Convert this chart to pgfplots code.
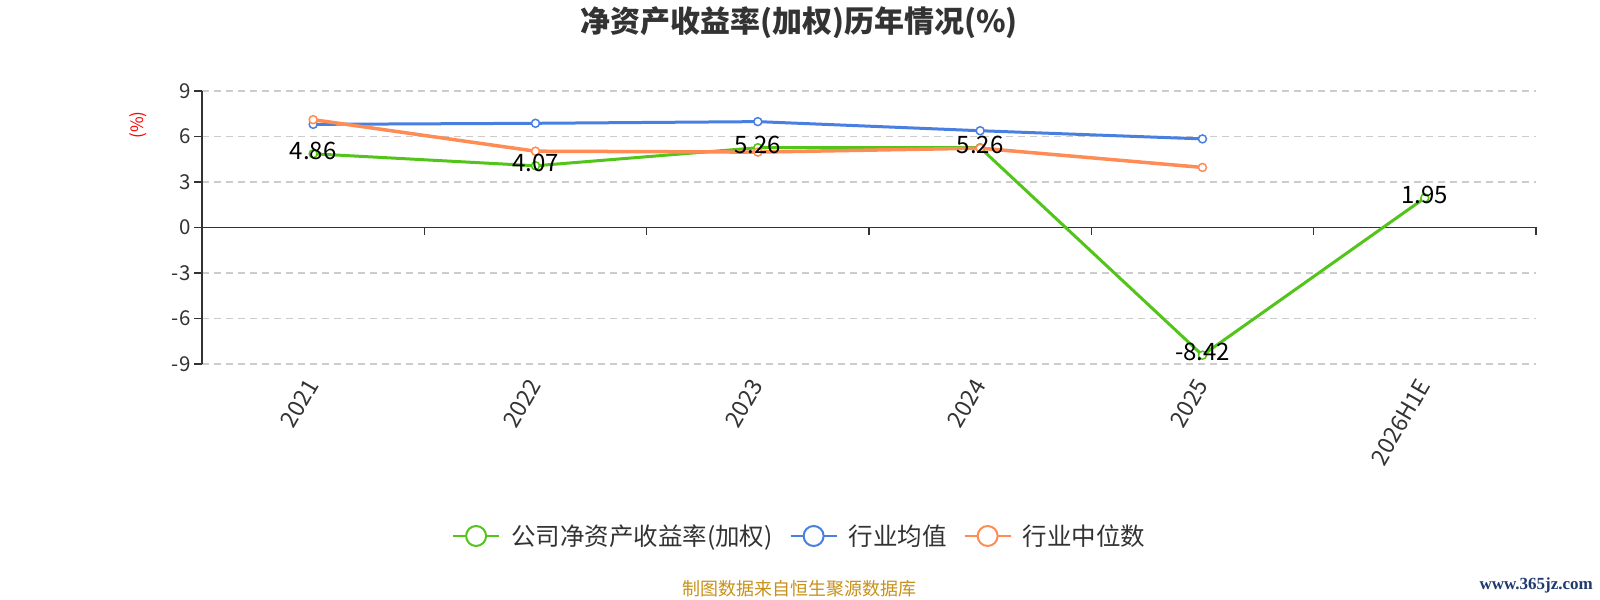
\documentclass[border=0pt]{standalone}
\usepackage{pgfplots}
\pgfplotsset{compat=1.18}
\usepackage{fontspec}
\setmainfont{Noto Sans CJK SC}
\newfontfamily\wmfont{Liberation Serif}
\definecolor{cgreen}{HTML}{52C41A}
\definecolor{cblue}{HTML}{4A7FE2}
\definecolor{corange}{HTML}{FF8C55}
\definecolor{caxis}{HTML}{333333}
\definecolor{cgrid}{HTML}{CCCCCC}
\definecolor{cfoot}{HTML}{C8901A}
\definecolor{cwm}{HTML}{1E3A6E}
\newcommand{\fs}[1]{\fontsize{#1bp}{#1bp}\selectfont}
\begin{document}
\begin{tikzpicture}
\path[use as bounding box] (0,0) rectangle (1600bp,600bp);
\begin{axis}[
  at={(202bp,236bp)}, anchor=south west,
  scale only axis, width=1334bp, height=273bp,
  xmin=-0.5, xmax=5.5, ymin=-9, ymax=9,
  axis x line*=bottom, axis y line*=left,
  x axis line style={draw=none},
  y axis line style={caxis, line width=1.5bp},
  xtick=data,
  xticklabels={2021,2022,2023,2024,2025,2026H1E},
  xtick style={draw=none},
  xticklabel style={rotate=60, anchor=east, font=\fs{23}, text=caxis, yshift=-4bp, xshift=-5bp},
  ytick={-9,-6,-3,0,3,6,9},
  yticklabels={-9,-6,-3,0,3,6,9},
  yticklabel style={font=\fs{20.5}, text=caxis},
  ytick style={caxis, line width=1.5bp},
  tick align=outside, major tick length=8bp,
  ymajorgrids, grid style={cgrid, line width=1.5bp, dash pattern=on 7bp off 5bp},
  clip=false,
  legend columns=3,
  legend style={at={(0.448,-0.630)}, anchor=center, draw=none, font=\fs{24.5}, text=caxis,
    /tikz/every even column/.append style={column sep=15bp},
    /tikz/every odd column/.append style={column sep=9bp}},
]
\draw[caxis, line width=1.5bp] (axis cs:-0.5,0) -- (axis cs:5.5,0);
\draw[caxis, line width=1.5bp] (axis cs:0.5,0) -- ([yshift=-8bp]axis cs:0.5,0);
\draw[caxis, line width=1.5bp] (axis cs:1.5,0) -- ([yshift=-8bp]axis cs:1.5,0);
\draw[caxis, line width=1.5bp] (axis cs:2.5,0) -- ([yshift=-8bp]axis cs:2.5,0);
\draw[caxis, line width=1.5bp] (axis cs:3.5,0) -- ([yshift=-8bp]axis cs:3.5,0);
\draw[caxis, line width=1.5bp] (axis cs:4.5,0) -- ([yshift=-8bp]axis cs:4.5,0);
\draw[caxis, line width=1.5bp] (axis cs:5.5,0) -- ([yshift=-8bp]axis cs:5.5,0);

\addplot[cgreen, line width=3bp, mark=*, mark size=4bp, mark options={fill=white, line width=1.5bp},
  legend image code/.code={\draw[cgreen, line width=2bp] (0bp,0bp)--(46bp,0bp);
    \draw[cgreen, line width=2bp, fill=white] (23bp,0bp) circle (10bp);}]
  coordinates {(0,4.86) (1,4.07) (2,5.26) (3,5.26) (4,-8.42) (5,1.95)};
\addlegendentry{公司净资产收益率(加权)}
\addplot[cblue, line width=3bp, mark=*, mark size=4bp, mark options={fill=white, line width=1.5bp},
  legend image code/.code={\draw[cblue, line width=2bp] (0bp,0bp)--(46bp,0bp);
    \draw[cblue, line width=2bp, fill=white] (23bp,0bp) circle (10bp);}]
  coordinates {(0,6.80) (1,6.87) (2,6.98) (3,6.38) (4,5.84)};
\addlegendentry{行业均值}
\addplot[corange, line width=3.5bp, mark=*, mark size=4bp, mark options={fill=white, line width=1.5bp},
  legend image code/.code={\draw[corange, line width=2bp] (0bp,0bp)--(46bp,0bp);
    \draw[corange, line width=2bp, fill=white] (23bp,0bp) circle (10bp);}]
  coordinates {(0,7.11) (1,5.03) (2,4.97) (3,5.23) (4,3.96)};
\addlegendentry{行业中位数}
\addplot[draw=none, mark=none, forget plot, nodes near coords,
  point meta=explicit symbolic,
  every node near coord/.append style={font=\fs{24}, text=black, anchor=center, yshift=3bp}]
  coordinates {(0,4.86)[4.86] (1,4.07)[4.07] (2,5.26)[5.26] (3,5.26)[5.26] (4,-8.42)[-8.42] (5,1.95)[1.95]};
\end{axis}
\node[font=\fs{30}\bfseries, text=caxis] at (799bp,577bp) {净资产收益率(加权)历年情况(\%)};
\node[font=\fs{17}, text=red, rotate=90] at (138bp,475bp) {(\%)};
\node[font=\fs{18}, text=cfoot] at (799bp,11bp) {制图数据来自恒生聚源数据库};
\node[font=\wmfont\fs{17}\bfseries, text=cwm, anchor=east, inner sep=0pt] at (1593bp,15bp) {www.365jz.com};
\end{tikzpicture}
\end{document}
